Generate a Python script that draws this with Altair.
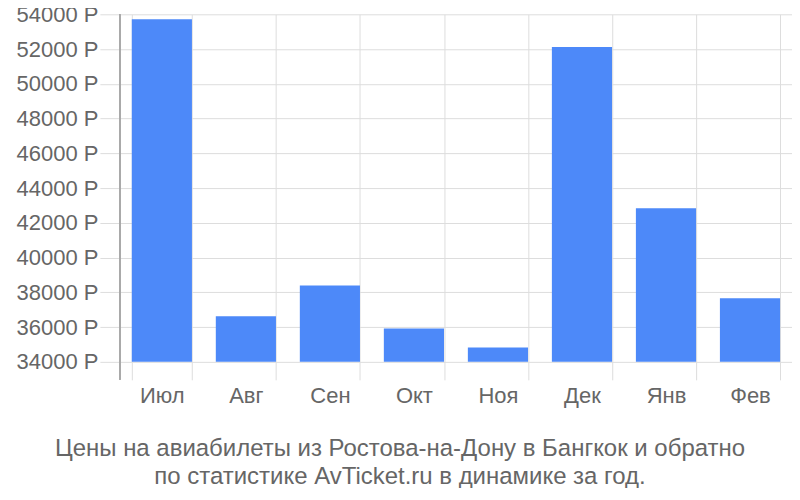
import altair as alt
import pandas as pd

months = ["Июл", "Авг", "Сен", "Окт", "Ноя", "Дек", "Янв", "Фев"]
prices = [53710, 36630, 38390, 35920, 34830, 52120, 42840, 37660]
y_ticks = [34000, 36000, 38000, 40000, 42000, 44000, 46000, 48000, 50000, 52000, 54000]
title_lines = [
    "Цены на авиабилеты из Ростова-на-Дону в Бангкок и обратно",
    "по статистике AvTicket.ru в динамике за год.",
]

df = pd.DataFrame({"month": months, "price": prices})

FONT = "Liberation Sans"
GRID = "#dddddd"
TXT = "#666666"

bars = alt.Chart(df).mark_bar(color="#4d89f9").encode(
    x=alt.X(
        "month:N",
        sort=months,
        scale=alt.Scale(paddingInner=0.284, paddingOuter=0.142),
        axis=alt.Axis(
            title=None,
            domain=False,
            grid=True,
            gridColor=GRID,
            tickBand="extent",
            tickColor=GRID,
            tickSize=18,
            labelAngle=0,
            labelFont=FONT,
            labelFontSize=22,
            labelColor=TXT,
            labelPadding=6,
        ),
    ),
    y=alt.Y(
        "price:Q",
        scale=alt.Scale(domain=[34000, 54000], zero=False, nice=False),
        axis=alt.Axis(
            title=None,
            values=y_ticks,
            domain=False,
            grid=True,
            gridColor=GRID,
            tickColor=GRID,
            tickSize=20,
            labelExpr="datum.value + ' Р'",
            labelFont=FONT,
            labelFontSize=22,
            labelColor=TXT,
            labelPadding=2,
        ),
    ),
    y2=alt.datum(34000),
)

left_line = alt.Chart(df).mark_rule(color="#aaaaaa", strokeWidth=1).encode(
    x=alt.value(0), y=alt.value(0), y2=alt.value(366)
)

chart = (
    alt.layer(bars, left_line)
    .properties(
        width=673,
        height=348,
        autosize=alt.AutoSizeParams(type="none"),
        padding={"left": 112, "top": 6, "right": 0, "bottom": 126},
        title=alt.TitleParams(
            text=title_lines,
            orient="bottom",
            anchor="middle",
            frame="bounds",
            font=FONT,
            fontSize=24,
            fontWeight="normal",
            color=TXT,
            lineHeight=28,
            offset=30,
            dx=-4,
        ),
    )
    .configure_view(stroke=None)
)

chart.save("out.html", embed_options={"renderer": "svg", "actions": False})
